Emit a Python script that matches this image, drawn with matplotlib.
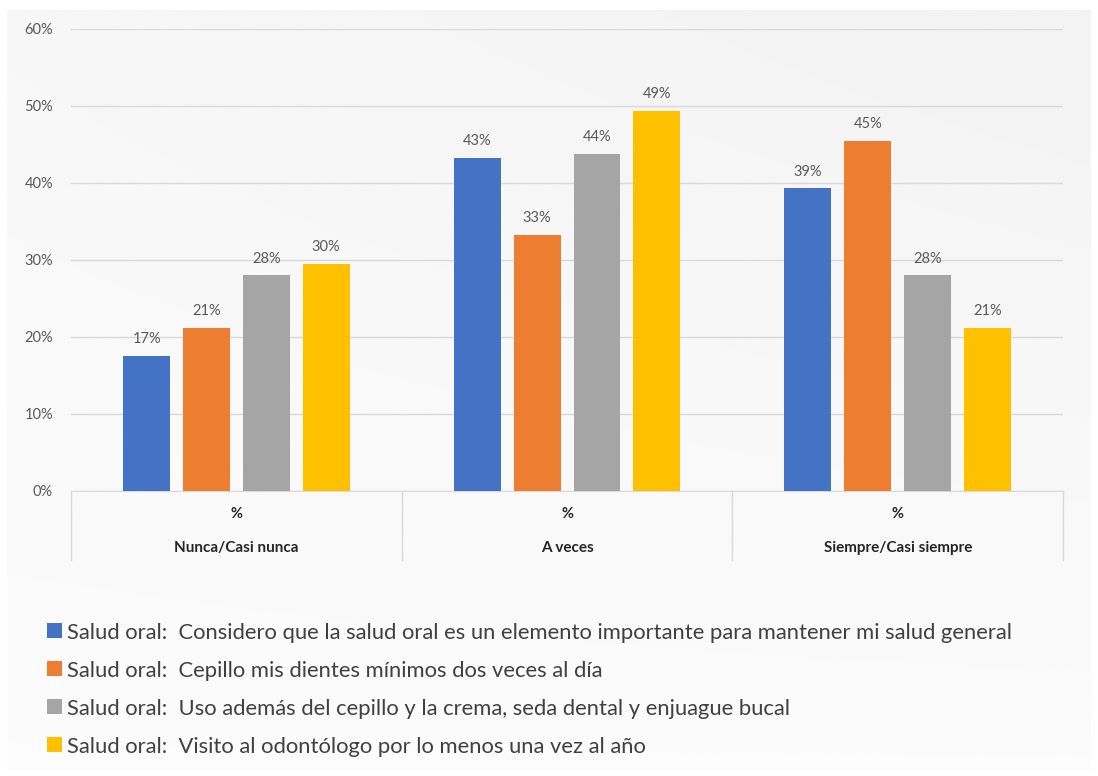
"""Grouped bar chart: salud oral por frecuencia."""

import matplotlib

matplotlib.use("Agg")
import matplotlib.pyplot as plt
import numpy as np

plt.rcParams["font.family"] = ["Lato", "DejaVu Sans"]

categories = ["Nunca/Casi nunca", "A veces", "Siempre/Casi siempre"]
sub_label = "%"
series_names = [
    "Salud oral:  Considero que la salud oral es un elemento importante para mantener mi salud general",
    "Salud oral:  Cepillo mis dientes mínimos dos veces al día",
    "Salud oral:  Uso además del cepillo y la crema, seda dental y enjuague bucal",
    "Salud oral:  Visito al odontólogo por lo menos una vez al año",
]
considero = [0.175, 0.433, 0.393]
cepillo = [0.212, 0.333, 0.455]
uso = [0.280, 0.438, 0.280]
visito = [0.295, 0.494, 0.212]
considero_labels = ["17%", "43%", "39%"]
cepillo_labels = ["21%", "33%", "45%"]
uso_labels = ["28%", "44%", "28%"]
visito_labels = ["30%", "49%", "21%"]

series = [considero, cepillo, uso, visito]
series_labels = [considero_labels, cepillo_labels, uso_labels, visito_labels]
colors = ["#4472C4", "#ED7D31", "#A5A5A5", "#FFC000"]

fig = plt.figure(figsize=(10.98, 7.76), dpi=100)
fig.patch.set_facecolor("white")

# soft gray panel behind the chart
bg = fig.add_axes([0, 0, 1, 1], zorder=-10)
bg.set_axis_off()
grad = np.linspace(0, 1, 256)
gx, gy = np.meshgrid(grad, grad)
img = 0.985 - 0.035 * (1 - gy) * (0.5 + 0.5 * gx)
bg.imshow(img, cmap="gray", vmin=0, vmax=1, extent=[0.006, 0.993, 0.008, 0.987],
          aspect="auto", origin="upper")
bg.set_xlim(0, 1)
bg.set_ylim(0, 1)

ax = fig.add_axes([0.0647, 0.3673, 0.9035, 0.5954])
ax.patch.set_alpha(0)

x = np.arange(len(categories))
width = 0.142
step = 0.181
for i, (vals, labs, color) in enumerate(zip(series, series_labels, colors)):
    offs = x + (i - 1.5) * step
    bars = ax.bar(offs, vals, width, color=color, label=series_names[i], zorder=3)
    for b, lab in zip(bars, labs):
        ax.annotate(lab, (b.get_x() + b.get_width() / 2, b.get_height()),
                    xytext=(0, 7), textcoords="offset points", ha="center",
                    va="bottom", fontsize=10.5, color="#595959")

ax.set_xlim(-0.5, len(categories) - 0.5)
ax.set_ylim(0, 0.6)
ticks = np.arange(0, 0.61, 0.1)
ax.set_yticks(ticks)
ax.set_yticklabels([f"{int(round(t * 100))}%" for t in ticks],
                   fontsize=10.5, color="#595959")
ax.tick_params(axis="y", length=0, pad=13)
ax.set_xticks([])
ax.grid(axis="y", color="#d9d9d9", linewidth=1, zorder=0)
for s in ["top", "right", "left"]:
    ax.spines[s].set_visible(False)
ax.spines["bottom"].set_color("#d9d9d9")

# multi-level category axis
trans = ax.get_xaxis_transform()
for xb in np.arange(-0.5, len(categories), 1.0):
    ax.plot([xb, xb], [0, -0.149], transform=trans, color="#d9d9d9",
            linewidth=1, clip_on=False)
for xi, cat in zip(x, categories):
    ax.text(xi, -0.05, sub_label, transform=trans, ha="center", va="center",
            fontsize=10.5, fontweight="bold", color="#262626")
    ax.text(xi, -0.124, cat, transform=trans, ha="center", va="center",
            fontsize=11, fontweight="bold", color="#262626")

fig.legend(loc="upper left", bbox_to_anchor=(0.035, 0.209), frameon=False,
           fontsize=15.8, labelcolor="#404040", handlelength=0.68,
           handleheight=0.68, handletextpad=0.2, labelspacing=0.82,
           borderaxespad=0)

fig.savefig("out.png", dpi=100)
